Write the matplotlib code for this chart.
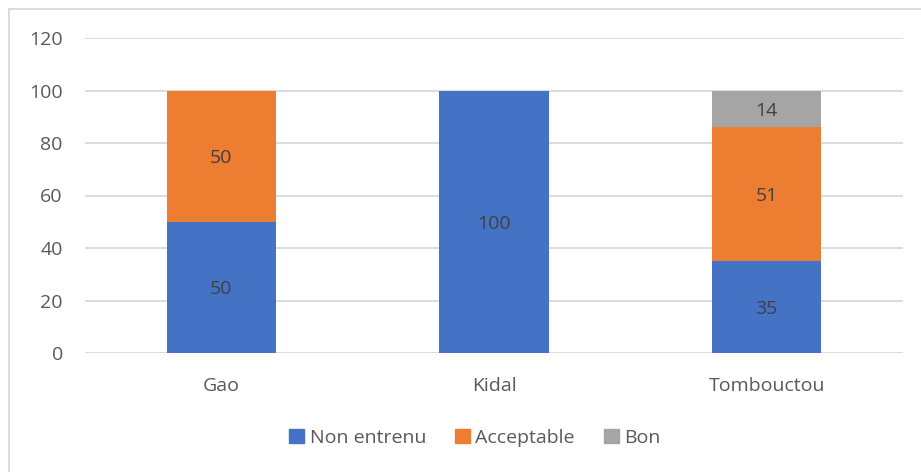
import numpy as np
import matplotlib.pyplot as plt
from matplotlib.lines import Line2D

regions = ['Gao', 'Kidal', 'Tombouctou']
non_entrenu = [50, 100, 35]
acceptable = [50, 0, 51]
bon = [0, 0, 14]
series_names = ['Non entrenu', 'Acceptable', 'Bon']
colors = ['#4472C4', '#ED7D31', '#A5A5A5']
yticks = [0, 20, 40, 60, 80, 100, 120]

W, H = 921, 472
plt.rcParams['font.family'] = ['Open Sans', 'DejaVu Sans']

fig = plt.figure(figsize=(W / 100, H / 100), dpi=100)
ax = fig.add_axes([85 / W, (H - 353) / H, (903 - 85) / W, (353 - 38) / H])

x = np.arange(len(regions))
bottom = np.zeros(len(regions))
for name, vals, col in zip(series_names, [non_entrenu, acceptable, bon], colors):
    vals = np.array(vals, dtype=float)
    ax.bar(x, vals, width=0.4, bottom=bottom, color=col, label=name, zorder=3)
    for xi, b, v in zip(x, bottom, vals):
        if v > 0:
            ax.text(xi, b + v / 2, f'{v:g}', ha='center', va='center_baseline',
                    fontsize=14, color='#404040', zorder=4)
    bottom += vals

ax.set_xlim(-0.5, len(regions) - 0.5)
ax.set_ylim(0, 120)
ax.set_yticks(yticks)
ax.set_xticks(x)
ax.set_xticklabels(regions)
ax.grid(axis='y', color='#D9D9D9', linewidth=1.3, zorder=0)
for s in ax.spines.values():
    s.set_visible(False)
ax.tick_params(axis='both', length=0, labelsize=14, colors='#595959')
ax.tick_params(axis='y', pad=16)
ax.tick_params(axis='x', pad=17)

handles = [plt.Rectangle((0, 0), 1, 1, color=c) for c in colors]
fig.legend(handles, series_names, loc='center', bbox_to_anchor=(475 / W, 1 - 438 / H),
           ncol=3, frameon=False, fontsize=14, handlelength=0.75, handleheight=0.75,
           handletextpad=0.3, columnspacing=1.5, labelcolor='#595959')

# chart area border (left and top edges visible)
fig.add_artist(Line2D([9 / W, 9 / W], [0, 1 - 9 / H], color='#D9D9D9', linewidth=1.3))
fig.add_artist(Line2D([9 / W, 1], [1 - 9 / H, 1 - 9 / H], color='#D9D9D9', linewidth=1.3))

fig.savefig('out.png', dpi=100)
